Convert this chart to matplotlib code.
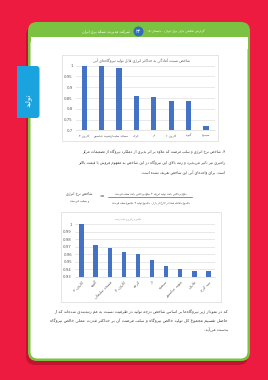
import re
import matplotlib
matplotlib.use("Agg")
import matplotlib.pyplot as plt
from matplotlib.patches import FancyBboxPatch, Rectangle, Circle
from matplotlib.ticker import FuncFormatter

# --- data -------------------------------------------------------------
hydro_names = ["کارون ۳", "شهید عباسپور", "مسجد سلیمان", "کرخه", "دز", "کارون ۴", "گتوند", "سیمره"]
readiness = [1.0, 0.997, 0.990, 0.861, 0.855, 0.838, 0.835, 0.719]
readiness_ticks = [0.7, 0.75, 0.8, 0.85, 0.9, 0.95, 1.0]

energy_names = ["کارون ۳", "گتوند", "مسجد سلیمان", "کارون ۴", "کرخه",
                "دز", "سیمره", "شهید عباسپور", "مارون", "سد کرج"]
energy_index = [1.0, 0.973, 0.969, 0.963, 0.960, 0.952, 0.944, 0.940, 0.938, 0.938]
energy_ticks = [0.93, 0.94, 0.95, 0.96, 0.97, 0.98, 0.99, 1.0]

title_1 = "شاخص نسبت آمادگی به حداکثر انرژی قابل تولید نیروگاه‌های آبی"
title_2 = "شاخص نرخ انرژی و سلب فرصت"
header_right = "گزارش تحلیلی بازار برق ایران - تابستان ۹۷"
header_left = "شرکت مدیریت شبکه برق ایران"
page_no = "۳۳"
tab_label = "تولید"
para_1 = ["۴- شاخص نرخ انرژی و سلب فرصت که علاوه بر اثر پذیری از عملکرد نیروگاه از تصمیمات مرکز",
          "راهبری نیز تاثیر می‌پذیرد و رتبه بالای این نیروگاه در این شاخص به مفهوم فروش با قیمت بالاتر",
          "است. برای واحدهای آبی این شاخص تعریف نشده است."]
formula_name = ["شاخص نرخ انرژی", "و سلب فرصت"]
formula_num = "مبلغ پرداختی بابت تولید انرژی + مبلغ پرداختی بابت سلب فرصت"
formula_den = "مجموع معامله شده در خارج از بازار - مجموع تولید + مجموع سلب فرصت"
para_2 = ["که در نمودار زیر نیروگاه‌ها بر اساس شاخص درجه تولید در ظرفیت نسبت به هم رتبه‌بندی شده‌اند که از",
          "حاصل تقسیم مجموع کل تولید خالص نیروگاه و سلب فرصت آن بر حداکثر قدرت عملی خالص نیروگاه",
          "بدست می‌آید."]

RED = "#ec1b3f"
GREEN = "#7cc242"
BAR = "#4472c4"
GRID = "#d9d9d9"
TXT = "#3c3c3c"

# --- tiny persian shaper (presentation forms + visual order) -----------
FORMS = {
    "ا": (0xFE8D, 0xFE8E, None, None), "آ": (0xFE81, 0xFE82, None, None),
    "ب": (0xFE8F, 0xFE90, 0xFE91, 0xFE92), "پ": (0xFB56, 0xFB57, 0xFB58, 0xFB59),
    "ت": (0xFE95, 0xFE96, 0xFE97, 0xFE98), "ث": (0xFE99, 0xFE9A, 0xFE9B, 0xFE9C),
    "ج": (0xFE9D, 0xFE9E, 0xFE9F, 0xFEA0), "چ": (0xFB7A, 0xFB7B, 0xFB7C, 0xFB7D),
    "ح": (0xFEA1, 0xFEA2, 0xFEA3, 0xFEA4), "خ": (0xFEA5, 0xFEA6, 0xFEA7, 0xFEA8),
    "د": (0xFEA9, 0xFEAA, None, None), "ذ": (0xFEAB, 0xFEAC, None, None),
    "ر": (0xFEAD, 0xFEAE, None, None), "ز": (0xFEAF, 0xFEB0, None, None),
    "ژ": (0xFB8A, 0xFB8B, None, None),
    "س": (0xFEB1, 0xFEB2, 0xFEB3, 0xFEB4), "ش": (0xFEB5, 0xFEB6, 0xFEB7, 0xFEB8),
    "ص": (0xFEB9, 0xFEBA, 0xFEBB, 0xFEBC), "ض": (0xFEBD, 0xFEBE, 0xFEBF, 0xFEC0),
    "ط": (0xFEC1, 0xFEC2, 0xFEC3, 0xFEC4), "ظ": (0xFEC5, 0xFEC6, 0xFEC7, 0xFEC8),
    "ع": (0xFEC9, 0xFECA, 0xFECB, 0xFECC), "غ": (0xFECD, 0xFECE, 0xFECF, 0xFED0),
    "ف": (0xFED1, 0xFED2, 0xFED3, 0xFED4), "ق": (0xFED5, 0xFED6, 0xFED7, 0xFED8),
    "ک": (0xFB8E, 0xFB8F, 0xFB90, 0xFB91), "گ": (0xFB92, 0xFB93, 0xFB94, 0xFB95),
    "ل": (0xFEDD, 0xFEDE, 0xFEDF, 0xFEE0), "م": (0xFEE1, 0xFEE2, 0xFEE3, 0xFEE4),
    "ن": (0xFEE5, 0xFEE6, 0xFEE7, 0xFEE8), "و": (0xFEED, 0xFEEE, None, None),
    "ه": (0xFEE9, 0xFEEA, 0xFEEB, 0xFEEC), "ی": (0xFBFC, 0xFBFD, 0xFBFE, 0xFBFF),
    "ئ": (0xFE89, 0xFE8A, 0xFE8B, 0xFE8C),
}


def shape(text):
    out, i, n = [], 0, len(text)
    while i < n:
        c = text[i]
        if c not in FORMS:
            out.append(c)
            i += 1
            continue
        prev = text[i - 1] if i > 0 else ""
        pj = prev in FORMS and FORMS[prev][2] is not None
        nxt = text[i + 1] if i + 1 < n else ""
        if c == "ل" and nxt == "ا":  # lam-alef
            out.append(chr(0xFEFC if pj else 0xFEFB))
            i += 2
            continue
        iso, fin, ini, med = FORMS[c]
        nj = nxt in FORMS and ini is not None
        if pj and nj:
            f = med
        elif pj:
            f = fin
        elif nj:
            f = ini
        else:
            f = iso
        out.append(chr(f))
        i += 1
    s = "".join(out).replace("\u200c", "")
    tokens = re.findall(r"[0-9A-Za-z.۰-۹]+|.", s)
    return "".join(reversed(tokens))


# --- figure -----------------------------------------------------------
W, H = 268, 380
fig = plt.figure(figsize=(W / 100, H / 100), dpi=100)
fig.patch.set_facecolor(RED)
bg = fig.add_axes([0, 0, 1, 1])
bg.set_xlim(0, W)
bg.set_ylim(H, 0)
bg.axis("off")
renderer = fig.canvas.get_renderer()


def fit_text(x_left, x_right, y, text, fs=3.6, color=TXT, fit=True, **kw):
    t = bg.text(x_right, y, shape(text), ha="right", va="center", fontsize=fs,
                color=color, family="DejaVu Sans", **kw)
    if fit:
        w = t.get_window_extent(renderer).width
        t.set_fontsize(min(fs * 1.15, fs * (x_right - x_left) / w))
    return t.get_fontsize()


# card + shadow
bg.add_patch(FancyBboxPatch((26, 26), 222, 339, boxstyle="round,pad=0,rounding_size=9",
                            fc="#b8122f", ec="none", alpha=0.8))
bg.add_patch(FancyBboxPatch((28, 22), 222, 339, boxstyle="round,pad=0,rounding_size=9",
                            fc=GREEN, ec="none"))
bg.add_patch(FancyBboxPatch((30.5, 37), 217, 321.5, boxstyle="round,pad=0,rounding_size=7",
                            fc="white", ec="none"))
bg.add_patch(Rectangle((30.5, 37), 217, 12, fc="white", ec="none"))

# header
fit_text(147, 205, 31.5, header_right, fs=3.2, color="white")
fit_text(83, 130, 31.5, header_left, fs=3.2, color="white")
bg.add_patch(Circle((138.5, 31.5), 5, fc="#2d6cc0", ec="none"))
bg.text(138.5, 31.8, shape(page_no), ha="center", va="center", fontsize=3.5,
        color="white", family="DejaVu Sans")

# side tab
bg.add_patch(FancyBboxPatch((17, 66), 22.5, 52, boxstyle="round,pad=0,rounding_size=3",
                            fc="#1aa3de", ec="none"))
bg.add_patch(Rectangle((17, 66), 4, 52, fc="#1aa3de", ec="none"))
bg.text(28.5, 100, shape(tab_label), rotation=90, ha="center", va="center",
        fontsize=5, color="white", family="DejaVu Sans")

# chart frames
bg.add_patch(Rectangle((62, 55), 156, 86, fc="white", ec=GRID, lw=0.5))
bg.add_patch(Rectangle((61, 212), 160, 90, fc="white", ec=GRID, lw=0.5))
fit_text(93, 190, 61.5, title_1, fs=3.0, color="#595959")
fit_text(115, 141, 219, title_2, fs=3.0, color="#595959")

# paragraph 1
fs_a = fit_text(80, 225, 152.5, para_1[0])
fs_b = fit_text(80, 225, 163, para_1[1])
fit_text(85, 225, 173, para_1[2], fs=(fs_a + fs_b) / 2, fit=False)

# formula
fit_text(66, 92, 193.5, formula_name[0], fs=3.2)
fit_text(70, 89, 200, formula_name[1], fs=3.2)
bg.text(102, 197, "=", ha="center", va="center", fontsize=4, color=TXT)
bg.plot([108, 192], [197, 197], color=TXT, lw=0.4)
fit_text(117, 187, 193, formula_num, fs=3.0)
fit_text(112, 190, 202.5, formula_den, fs=3.0)

# paragraph 2
fs_a = fit_text(50, 228, 312, para_2[0])
fs_b = fit_text(50, 228, 321, para_2[1])
fit_text(185, 228, 330, para_2[2], fs=(fs_a + fs_b) / 2, fit=False)


def style_axes(ax, ticks):
    ax.set_facecolor("none")
    ax.set_yticks(ticks)
    ax.yaxis.set_major_formatter(FuncFormatter(lambda v, p: f"{round(v, 2):g}"))
    ax.grid(axis="y", color=GRID, lw=0.4)
    ax.set_axisbelow(True)
    for s in ["top", "right", "left"]:
        ax.spines[s].set_visible(False)
    ax.spines["bottom"].set_color(GRID)
    ax.spines["bottom"].set_linewidth(0.5)
    ax.tick_params(length=0, labelsize=2.8, colors="#595959", pad=2)


# chart 1
ax1 = fig.add_axes([75.5 / W, 1 - 130.3 / H, 139.2 / W, 64.6 / H])
ax1.bar(range(len(readiness)), readiness, width=0.31, color=BAR)
ax1.set_xlim(-0.5, len(readiness) - 0.5)
ax1.set_ylim(readiness_ticks[0], readiness_ticks[-1])
style_axes(ax1, readiness_ticks)
ax1.set_xticks(range(len(hydro_names)))
ax1.set_xticklabels([shape(n) for n in hydro_names], family="DejaVu Sans", fontsize=2.2)

# chart 2
ax2 = fig.add_axes([74.7 / W, 1 - 277 / H, 140.6 / W, 52.7 / H])
ax2.bar(range(len(energy_index)), energy_index, width=0.33, color=BAR)
ax2.set_xlim(-0.5, len(energy_index) - 0.5)
ax2.set_ylim(energy_ticks[0], energy_ticks[-1])
style_axes(ax2, energy_ticks)
ax2.set_xticks(range(len(energy_names)))
ax2.set_xticklabels([shape(n) for n in energy_names], family="DejaVu Sans",
                    rotation=45, ha="right", rotation_mode="anchor")

fig.savefig("out.png", dpi=100, facecolor=RED)
